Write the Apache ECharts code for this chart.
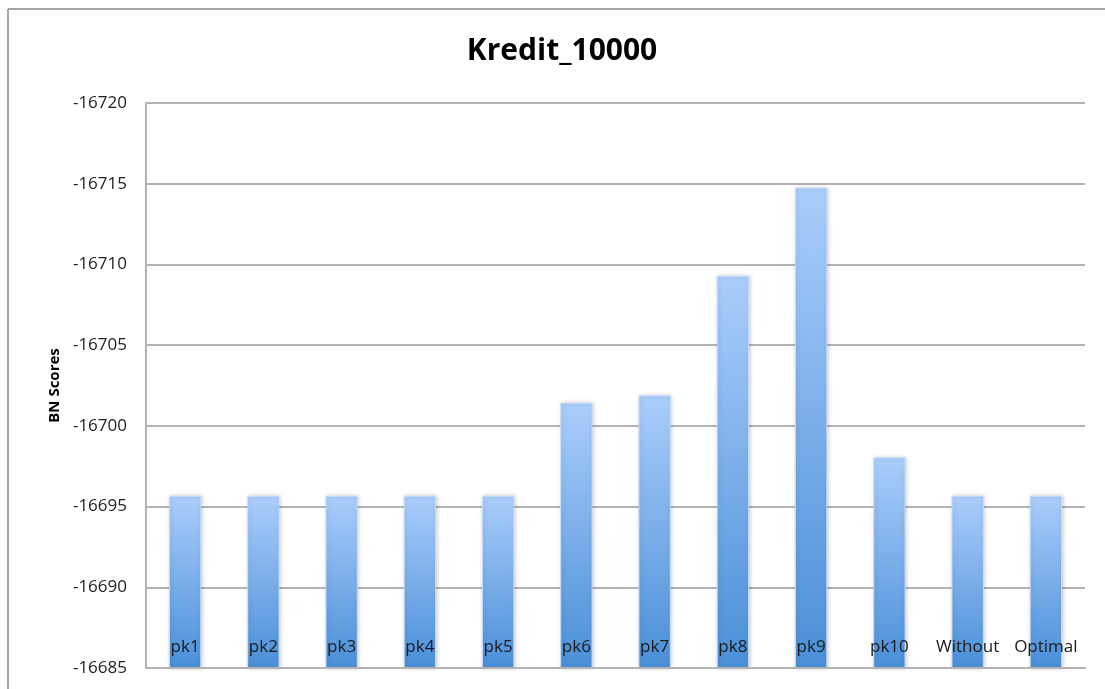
<!DOCTYPE html>
<html>
<head>
<meta charset="utf-8">
<title>Kredit_10000</title>
<script src="https://cdn.jsdelivr.net/npm/echarts@6/dist/echarts.min.js"></script>
<style>
  html, body { margin: 0; padding: 0; background: #ffffff; }
  #chart { width: 1105px; height: 689px; }
</style>
</head>
<body>
<div id="chart"></div>
<script>
// BN scores per configuration
const categories = ['pk1', 'pk2', 'pk3', 'pk4', 'pk5', 'pk6', 'pk7', 'pk8', 'pk9', 'pk10', 'Without', 'Optimal'];
const scores = [-16695.64, -16695.64, -16695.64, -16695.64, -16695.64, -16701.40, -16701.86, -16709.26, -16714.73, -16698.02, -16695.64, -16695.64];

// value axis (drawn inverted: most negative at the top)
const axisMin = -16720;
const axisMax = -16685;
const axisStep = 5;
const barBase = axisMax;

const chart = echarts.init(document.getElementById('chart'), null, { renderer: 'canvas' });

const barFill = new echarts.graphic.LinearGradient(0, 0, 0, 1, [
  { offset: 0, color: '#aacdfb' },
  { offset: 1, color: '#4a8fd8' }
]);

chart.setOption({
  animation: false,
  backgroundColor: '#ffffff',
  textStyle: { fontFamily: 'Open Sans' },
  title: {
    text: 'Kredit_10000',
    left: 557,
    top: 31,
    textAlign: 'center',
    textStyle: { fontFamily: 'Open Sans', fontWeight: 'bold', fontSize: 30, color: '#000000' }
  },
  graphic: [
    { type: 'line', shape: { x1: 8, y1: 9, x2: 8, y2: 689 }, style: { stroke: '#a6a6a6', lineWidth: 2 }, silent: true },
    { type: 'line', shape: { x1: 8, y1: 9, x2: 1105, y2: 9 }, style: { stroke: '#a6a6a6', lineWidth: 2 }, silent: true }
  ],
  grid: { left: 146, right: 20, top: 103, bottom: 21 },
  xAxis: {
    type: 'category',
    data: categories,
    z: 10,
    axisLine: { show: true, lineStyle: { color: '#b3b3b3', width: 2 } },
    axisTick: { show: false },
    axisLabel: {
      inside: true,
      margin: 12,
      fontFamily: 'Open Sans',
      fontSize: 17,
      color: '#1a1a1a',
      interval: 0
    },
    splitLine: { show: false }
  },
  yAxis: {
    type: 'value',
    inverse: true,
    min: axisMin,
    max: axisMax,
    interval: axisStep,
    name: 'BN Scores',
    nameLocation: 'middle',
    nameGap: 84,
    nameTextStyle: { fontFamily: 'Open Sans', fontWeight: 'bold', fontSize: 15, color: '#000000' },
    axisLine: { show: true, lineStyle: { color: '#b3b3b3', width: 2 } },
    axisTick: { show: false },
    axisLabel: {
      fontFamily: 'Open Sans',
      fontSize: 17,
      color: '#222222',
      margin: 19,
      formatter: function (v) { return String(v); }
    },
    splitLine: { show: true, lineStyle: { color: '#b3b3b3', width: 2 } }
  },
  series: [{
    type: 'custom',
    data: scores.map((v, i) => [i, v]),
    encode: { x: 0, y: 1 },
    z: 2,
    renderItem: function (params, api) {
      const idx = api.value(0);
      const top = api.coord([idx, api.value(1)]);
      const base = api.coord([idx, barBase]);
      const w = api.size([1, 0])[0] * 0.4;
      return {
        type: 'rect',
        shape: { x: top[0] - w / 2, y: top[1], width: w, height: base[1] - top[1] },
        style: {
          fill: barFill,
          stroke: 'rgba(200,222,250,0.9)',
          lineWidth: 1,
          shadowBlur: 4,
          shadowColor: 'rgba(0,0,0,0.18)',
          shadowOffsetX: 1,
          shadowOffsetY: 0
        }
      };
    }
  }]
});
</script>
</body>
</html>
